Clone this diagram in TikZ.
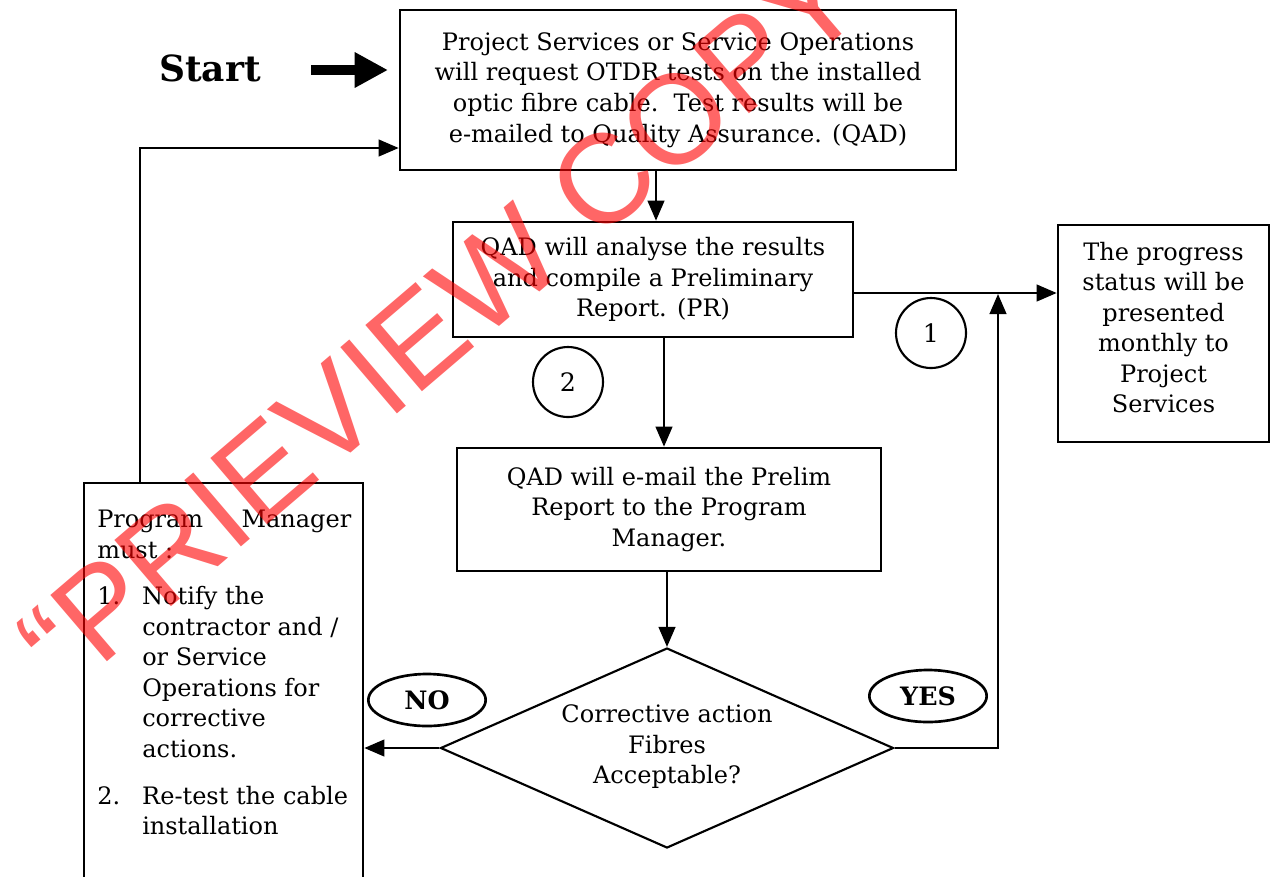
\documentclass[tikz,border=0pt]{standalone}
\usepackage{fontspec}
\setmainfont{DejaVu Serif}
\newfontfamily\wmfont{Liberation Sans}
\usetikzlibrary{shapes.geometric,arrows.meta}
\begin{document}
\begin{tikzpicture}[x=0.75pt,y=-0.75pt,
  txt/.style={font=\fontsize{18}{22.9}\selectfont},
  frame/.style={draw,line width=2pt,inner sep=0pt},
  box/.style={frame,align=center,txt},
  conn/.style={line width=1.6pt},
  arr/.style={conn,-{Triangle[length=15pt,width=12.5pt]}},
  num/.style={draw,circle,line width=1.6pt,minimum size=52.5pt,inner sep=0pt,font=\fontsize{19}{19}\selectfont},
  ans/.style={draw,ellipse,line width=2pt,inner sep=0pt,minimum width=88pt,minimum height=39pt,font=\bfseries\fontsize{19}{19}\selectfont},
]
\useasboundingbox (0,0) rectangle (1271,876);
\fill[white] (0,0) rectangle (1271,876);

% start
\node[font=\bfseries\fontsize{27}{27}\selectfont,inner sep=0pt] (start) at (210,68) {Start};
\coordinate (sa1) at (311,70);
\coordinate (sa2) at (388,70);
\draw[line width=7.5pt,-{Triangle[length=25pt,width=25pt]}] (sa1) -- (sa2);

% boxes
\node[box,minimum width=417pt,minimum height=120pt] (box1) at (678,90)
  {Project Services or Service Operations\\will request OTDR tests on the installed\\optic fibre cable.~~Test results will be\\e-mailed to Quality Assurance. (QAD)};
\node[box,minimum width=300pt,minimum height=86.25pt] (box2) at (653,279.5)
  {QAD will analyse the results\\and compile a Preliminary\\Report. (PR)};
\node[box,minimum width=318pt,minimum height=92.25pt] (box3) at (669,509.5)
  {QAD will e-mail the Prelim\\Report to the Program\\Manager.};
\node[frame,minimum width=158.25pt,minimum height=162.75pt] (prog) at (1163.5,333.5) {};
\node[txt,align=center,inner sep=0pt] (progtext) at (1163.5,327.5)
  {The progress\\status will be\\presented\\monthly to\\Project\\Services};
\node[frame,minimum width=209.25pt,minimum height=312.75pt] (pm) at (223.5,691.5) {};
\node[txt,anchor=north west,align=left,inner sep=0pt] (pmtext) at (97,510)
  {\makebox[190.5pt][s]{Program\hfill Manager}\\must :\\[12pt]
   \makebox[33.75pt][l]{1.}Notify the\\
   \hspace*{33.75pt}contractor and /\\
   \hspace*{33.75pt}or Service\\
   \hspace*{33.75pt}Operations for\\
   \hspace*{33.75pt}corrective\\
   \hspace*{33.75pt}actions.\\[12pt]
   \makebox[33.75pt][l]{2.}Re-test the cable\\
   \hspace*{33.75pt}installation};

% decision
\node[diamond,draw,line width=1.6pt,minimum width=339.75pt,minimum height=150pt,inner sep=0pt] (dia) at (667,748) {};
\node[txt,align=center,inner sep=0pt] (diatext) at (667,747) {Corrective action\\Fibres\\Acceptable?};

% numbered circles and answers
\node[num] (c1) at (931,333) {1};
\node[num] (c2) at (568,382) {2};
\node[ans] (no) at (427,700) {NO};
\node[ans] (yes) at (928,696) {YES};

% connectors
\draw[arr] (box1.south -| 656,0) -- (box2.north -| 656,0);
\draw[arr] (box2.south -| 664,0) -- (box3.north -| 664,0);
\draw[arr] (box3.south -| 667,0) -- (dia.north);
\draw[arr] (box2.east |- 0,293) -- (prog.west |- 0,293);
\coordinate (junc) at (998,294);
\draw[arr] (dia.east) -| (junc);
\draw[arr] (dia.west) -- (pm.east |- dia.west);
\draw[arr] (pm.north -| 140,0) |- (box1.west |- 0,148);

% watermark
\node[rotate=40.5,inner sep=0pt,text=red,text opacity=0.6,font=\wmfont\fontsize{95}{95}\selectfont] (wm) at (440,320) {“PRIEVIEW COPY};
\end{tikzpicture}
\end{document}
